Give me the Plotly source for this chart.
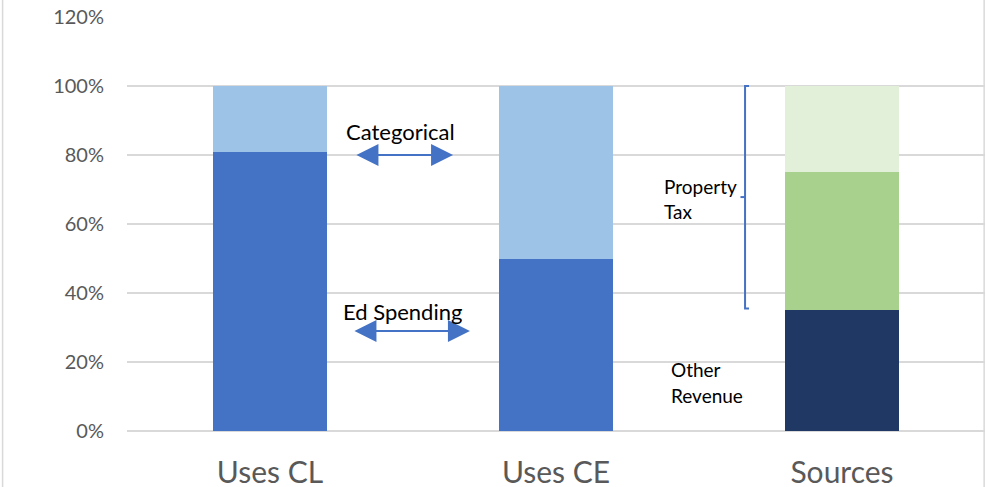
import plotly.graph_objects as go

categories = ["Uses CL", "Uses CE", "Sources"]
base_share = [0.81, 0.50, 0.35]
middle_share = [0.19, 0.50, 0.40]
top_share = [0.0, 0.0, 0.25]
base_colors = ["#4472C4", "#4472C4", "#203864"]
middle_colors = ["#9DC3E6", "#9DC3E6", "#A9D18E"]
top_colors = ["#E2F0D9", "#E2F0D9", "#E2F0D9"]
y_ticks = [0, 0.2, 0.4, 0.6, 0.8, 1.0, 1.2]
y_tick_labels = ["0%", "20%", "40%", "60%", "80%", "100%", "120%"]

FONT = "Lato"
fig = go.Figure()
for vals, cols in [(base_share, base_colors), (middle_share, middle_colors), (top_share, top_colors)]:
    fig.add_trace(go.Bar(x=categories, y=vals, marker=dict(color=cols, line=dict(width=0)),
                         width=0.4, showlegend=False, hoverinfo="skip"))

fig.update_layout(
    barmode="stack",
    width=986, height=487,
    margin=dict(l=127, r=1, t=17, b=56),
    paper_bgcolor="white", plot_bgcolor="white",
    font=dict(family=FONT, color="#595959"),
    xaxis=dict(range=[-0.5, 2.5], showgrid=False, showline=False, ticks="",
               ticklabelstandoff=21, automargin=False,
               tickfont=dict(size=30, color="#595959", family=FONT)),
    yaxis=dict(range=[0, 1.2], tickvals=y_ticks, ticktext=y_tick_labels,
               showgrid=True, gridcolor="#D9D9D9", gridwidth=1.5,
               zeroline=True, zerolinecolor="#D9D9D9", zerolinewidth=1.5,
               showline=False, ticks="", ticklabelstandoff=22, automargin=False,
               tickfont=dict(size=20, color="#595959", family=FONT)),
)

arrow_color = "#4472C4"
for (x0, x1, y) in [(0.297, 0.640, 0.80), (0.290, 0.699, 0.29)]:
    fig.add_annotation(x=x1, y=y, ax=x0, ay=y, xref="x", yref="y", axref="x", ayref="y",
                       text="", showarrow=True, arrowhead=2, arrowside="end+start",
                       arrowsize=2.2, arrowwidth=2, arrowcolor=arrow_color)

texts = [
    ("Categorical", 0.458, 0.867, "center", 22),
    ("Ed Spending", 0.465, 0.345, "center", 22),
    ("Property", 1.371, 0.710, "left", 19),
    ("Tax", 1.371, 0.635, "left", 19),
    ("Other", 1.395, 0.177, "left", 19),
    ("Revenue", 1.395, 0.102, "left", 19),
]
for t, x, y, anchor, size in texts:
    fig.add_annotation(x=x, y=y, xref="x", yref="y", text=t, showarrow=False,
                       xanchor=anchor, yanchor="middle",
                       font=dict(size=size, color="black", family=FONT))

fig.add_shape(type="path", xref="x", yref="y",
              path="M 1.675,1.0 L 1.661,1.0 L 1.661,0.355 L 1.675,0.355",
              line=dict(color=arrow_color, width=2))
fig.add_shape(type="line", xref="x", yref="y", x0=1.661, x1=1.645, y0=0.678, y1=0.678,
              line=dict(color=arrow_color, width=2))

fig.add_shape(type="line", xref="paper", yref="paper", x0=-0.145, x1=-0.145, y0=-0.2, y1=1.1,
              line=dict(color="#D9D9D9", width=1.5))
fig.add_shape(type="line", xref="paper", yref="paper", x0=0.999, x1=0.999, y0=-0.2, y1=1.1,
              line=dict(color="#D9D9D9", width=1.5))

fig.write_html("out.html", config={"displayModeBar": False},
               post_script="document.body.style.margin='0';")
